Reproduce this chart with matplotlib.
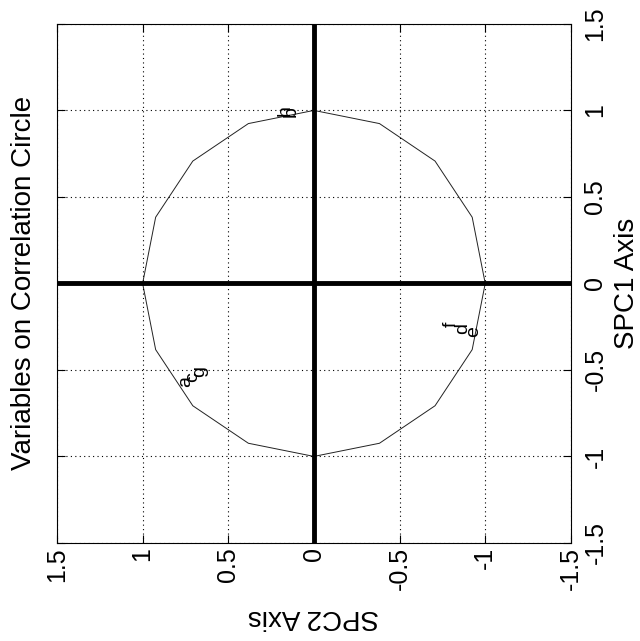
"""Correlation circle of the variables on SPC1 / SPC2, drawn turned on its side."""

import matplotlib
matplotlib.use("Agg")
import matplotlib.pyplot as plt
from matplotlib.patches import RegularPolygon

plt.rcParams["font.family"] = ["Liberation Sans", "DejaVu Sans"]

FONT_SIZE = 20
TICK_SIZE = 18
LABEL_SIZE = 14
OUTPUT_FILENAME = "out.png"

# variable coordinates on the two components
var_names = ["h", "b", "f", "d", "e", "a", "c", "g"]
spc1 = [0.97, 0.96, -0.25, -0.29, -0.31, -0.60, -0.57, -0.54]
spc2 = [0.17, 0.13, -0.80, -0.87, -0.93, 0.75, 0.71, 0.67]

ticks = [-1.5, -1, -0.5, 0, 0.5, 1, 1.5]
tick_labels = ["-1.5", "-1", "-0.5", "0", "0.5", "1", "1.5"]

fig = plt.figure(figsize=(6.4, 6.41), dpi=100)
ax = fig.add_axes([0.089, 0.153, 0.803, 0.8097])

# SPC2 runs right to left, SPC1 bottom to top
ax.set_xlim(1.5, -1.5)
ax.set_ylim(-1.5, 1.5)

ax.grid(True, linestyle=(0, (1, 3)), color="k", linewidth=0.8)
ax.axhline(0, color="k", linewidth=3.5)
ax.axvline(0, color="k", linewidth=3.5)

# unit circle as a 16 sided polygon
ax.add_patch(RegularPolygon((0, 0), 16, radius=1, orientation=0,
                            fill=False, edgecolor="#222222", linewidth=0.7))

for name, x, y in zip(var_names, spc2, spc1):
    ax.text(x, y, name, rotation=90, rotation_mode="anchor", ha="left", va="center",
            fontsize=LABEL_SIZE)

ax.set_xticks(ticks)
ax.set_xticklabels(tick_labels, rotation=90, fontsize=TICK_SIZE)
ax.set_yticks(ticks)
ax.set_yticklabels(tick_labels, rotation=90, fontsize=TICK_SIZE, va="center")
ax.tick_params(direction="in", length=6, top=True, bottom=True, left=True, right=True,
               labelleft=False, labelright=True)
ax.tick_params(axis="x", pad=3)
ax.tick_params(axis="y", pad=9)

for spine in ax.spines.values():
    spine.set_linewidth(0.8)

ax.set_xlabel("SPC2 Axis", rotation=180, fontsize=FONT_SIZE, va="center")
ax.xaxis.set_label_coords(0.5, -0.1426)
ax.yaxis.set_label_position("right")
ax.set_ylabel("SPC1 Axis", rotation=90, fontsize=FONT_SIZE, va="center")
ax.yaxis.set_label_coords(1.109, 0.5)

fig.text(0.0375, 0.558, "Variables on Correlation Circle", rotation=90,
         ha="center", va="center", fontsize=FONT_SIZE)

fig.savefig(OUTPUT_FILENAME)
